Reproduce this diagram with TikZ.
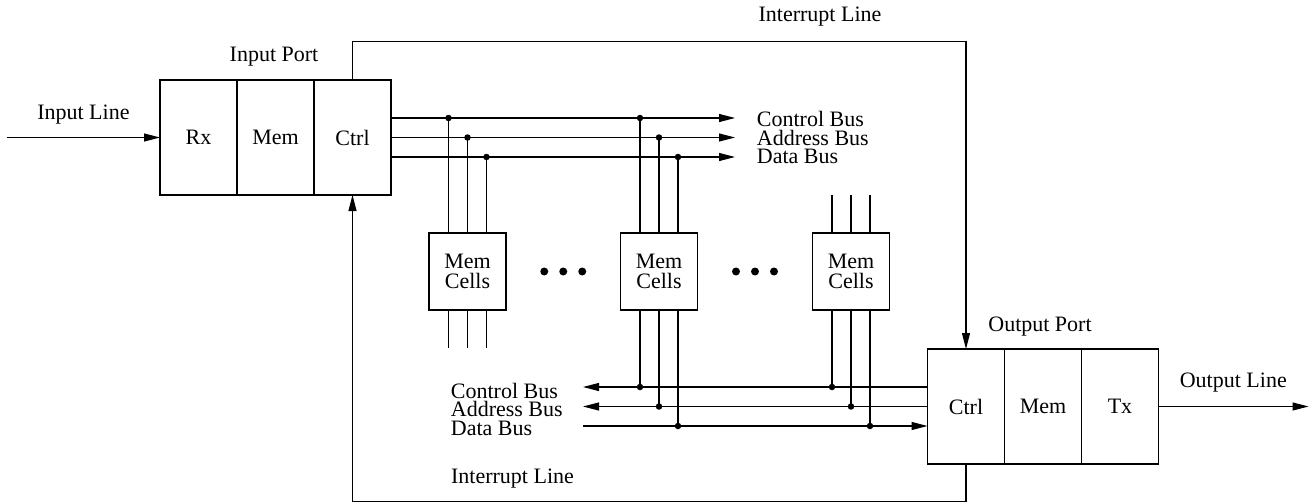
\documentclass[tikz,border=0pt]{standalone}
\usepackage{fontspec}
\setmainfont{Liberation Serif}
\usetikzlibrary{arrows.meta, positioning, calc}
\tikzset{
  cell/.style={rectangle, draw, minimum width=77pt, minimum height=115pt,
    inner sep=0pt, outer sep=0pt, line width=1.1pt},
  memcell/.style={rectangle, draw, minimum size=77pt, inner sep=0pt,
    outer sep=0pt, align=center, line width=1.1pt},
  lbl/.style={inner sep=0pt},
  tap/.style={circle, fill, inner sep=0pt, minimum size=6.5pt},
  arrow/.style={-{Triangle[length=16pt, width=8pt]}, line width=1.1pt},
  wire/.style={line width=1.1pt}
}

\begin{document}
\begin{tikzpicture}[x=1pt, y=-1pt, font=\fontsize{22}{20}\selectfont]
  \useasboundingbox (0,0) rectangle (1309,503);
  % ports
  \node[cell] (rx) at (198.5,137.5) {Rx};
  \node[cell, right=0pt of rx] (inmem) {Mem};
  \node[cell, right=0pt of inmem] (inctrl) {Ctrl};
  \node[cell] (outctrl) at (966,406.5) {Ctrl};
  \node[cell, right=0pt of outctrl] (outmem) {Mem};
  \node[cell, right=0pt of outmem] (tx) {Tx};
  % memory cells
  \node[memcell] (m1) at (467.5,271.5) {Mem\\Cells};
  \node[memcell] (m2) at (659,271.5) {Mem\\Cells};
  \node[memcell] (m3) at (851,271.5) {Mem\\Cells};
  \foreach \a/\b in {m1/m2, m2/m3}
    \foreach \dx in {-19,0,19}
      \fill ($(\a.east)!0.5!(\b.west)+(\dx,0)$) circle (4pt);
  % buses
  \coordinate (cbt) at (735,118);
  \coordinate (abt) at (735,137.5);
  \coordinate (dbt) at (735,157);
  \coordinate (cbb) at (583,387);
  \coordinate (abb) at (583,406.5);
  \coordinate (dbb) at (583,426);
  \draw[arrow] (inctrl.east |- cbt) -- (cbt);
  \draw[arrow] (inctrl.east |- abt) -- (abt);
  \draw[arrow] (inctrl.east |- dbt) -- (dbt);
  \draw[arrow] (outctrl.west |- cbb) -- (cbb);
  \draw[arrow] (outctrl.west |- abb) -- (abb);
  \draw[arrow] (dbb) -- (outctrl.west |- dbb);
  \foreach \dx/\bt/\bb/\i in {-19/cbt/cbb/1, 0/abt/abb/2, 19/dbt/dbb/3} {
    \foreach \m in {m1,m2}
      \draw[wire] (\m.north) ++(\dx,0) coordinate (p) -- (p |- \bt) node[tap] (\m-t\i) {};
    \foreach \m in {m2,m3}
      \draw[wire] (\m.south) ++(\dx,0) coordinate (p) -- (p |- \bb) node[tap] (\m-b\i) {};
    \draw[wire] (m1.south) ++(\dx,0) -- ++(0,38);
    \draw[wire] (m3.north) ++(\dx,0) -- ++(0,-38);
  }
  % interrupt lines
  \draw[arrow] (inctrl.north) -- ++(0,-38.5) -| (outctrl.north);
  \draw[arrow] (outctrl.south) -- ++(0,37.5) -| (inctrl.south);
  % input / output lines
  \coordinate (linein) at (6.5,137.5);
  \coordinate (lineout) at (1308.5,406.5);
  \draw[arrow] (linein) -- (rx.west);
  \draw[arrow] (tx.east) -- (lineout);
  % labels
  \node[lbl, anchor=base] (inlinelbl) at (83.4,119.3) {Input Line};
  \node[lbl, anchor=base] (inportlbl) at (274,61.7) {Input Port};
  \node[lbl, anchor=base] (irqtoplbl) at (820,21.7) {Interrupt Line};
  \node[lbl, anchor=base] (irqbotlbl) at (512.5,483) {Interrupt Line};
  \node[lbl, anchor=base] (outportlbl) at (1040,331.7) {Output Port};
  \node[lbl, anchor=base] (outlinelbl) at (1233.3,387.3) {Output Line};
  \node[lbl, anchor=base west] (ctltop) at (756.7,126.7) {Control Bus};
  \node[lbl, anchor=base west] (adrtop) at (756.7,145) {Address Bus};
  \node[lbl, anchor=base west] (dattop) at (756.7,163.3) {Data Bus};
  \node[lbl, anchor=base west] (ctlbot) at (450.7,398.3) {Control Bus};
  \node[lbl, anchor=base west] (adrbot) at (450.7,416.7) {Address Bus};
  \node[lbl, anchor=base west] (datbot) at (450.7,435) {Data Bus};
\end{tikzpicture}
\end{document}
